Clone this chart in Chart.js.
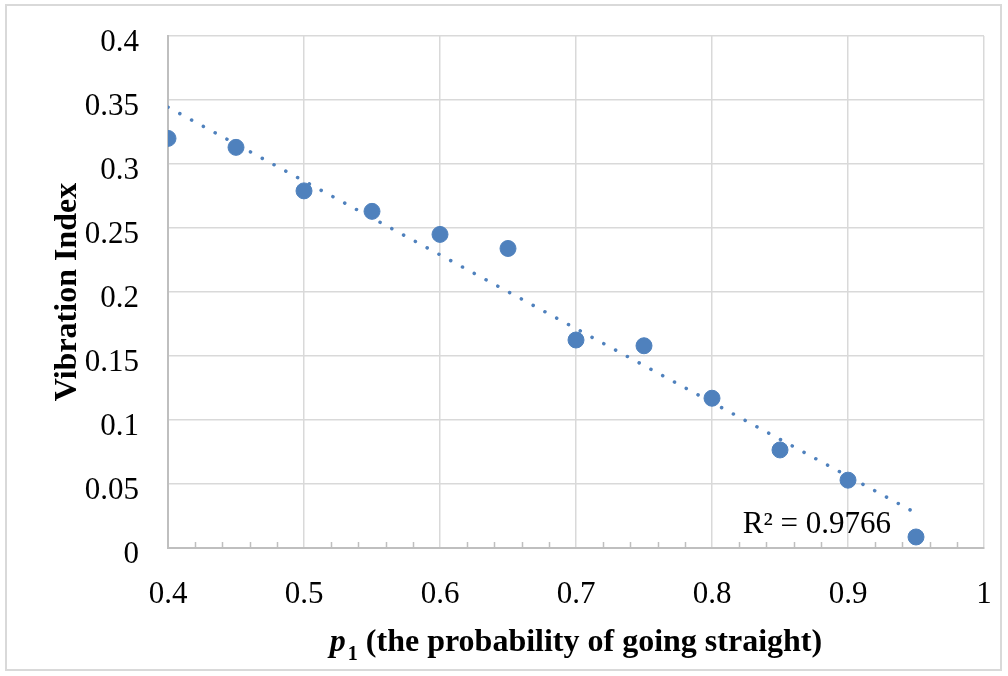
<!DOCTYPE html>
<html>
<head>
<meta charset="utf-8">
<script src="https://cdn.jsdelivr.net/npm/chart.js@4.4.1/dist/chart.umd.min.js"></script>
<style>
  html, body { margin: 0; padding: 0; background: #fff; }
  #wrap { width: 1008px; height: 676px; position: relative; }
</style>
</head>
<body>
<div id="wrap"><canvas id="vib"></canvas></div>
<script>
// p1 values and vibration index
const pValues = [0.4, 0.45, 0.5, 0.55, 0.6, 0.65, 0.7, 0.75, 0.8, 0.85, 0.9, 0.95];
const vibIndex = [0.320, 0.313, 0.279, 0.263, 0.245, 0.234, 0.1625, 0.158, 0.117, 0.0766, 0.053, 0.0086];
const rSquaredText = 'R² = 0.9766';

const serif = "'Liberation Serif', 'Times New Roman', serif";
const blue = '#4f81bd';

// least squares fit, same as the excel trendline
const n = pValues.length;
const mx = pValues.reduce((a, b) => a + b, 0) / n;
const my = vibIndex.reduce((a, b) => a + b, 0) / n;
let sxy = 0, sxx = 0;
pValues.forEach((x, i) => { sxy += (x - mx) * (vibIndex[i] - my); sxx += (x - mx) * (x - mx); });
const slope = sxy / sxx;
const icpt = my - slope * mx;
const trendX = [pValues[0], pValues[n - 1]];

// excel style numbers: 0.4, 0.35, 1, 0
const fmt = v => String(parseFloat(v.toFixed(2)));

// fixed plot box, no extra label padding
const noPad = s => { s.paddingTop = 0; s.paddingBottom = 0; s.paddingLeft = 0; s.paddingRight = 0; };

const extras = {
  id: 'extras',
  afterDraw(chart) {
    const c = chart.ctx;
    const xs = chart.scales.x;
    const a = chart.chartArea;
    c.save();
    // outer frame
    c.strokeStyle = '#d9d9d9';
    c.lineWidth = 2;
    c.strokeRect(6, 5, 995, 665);
    // minor ticks on x axis
    c.strokeStyle = '#bfbfbf';
    c.lineWidth = 1.5;
    for (let i = 20; i < 50; i++) {
      if (i % 5 === 0) continue;
      const px = Math.round(xs.getPixelForValue(i * 0.02)) + 0.5;
      c.beginPath();
      c.moveTo(px, a.bottom);
      c.lineTo(px, a.bottom - 6);
      c.stroke();
    }
    // R squared label
    c.fillStyle = '#000';
    c.font = '31px ' + serif;
    c.textAlign = 'right';
    c.textBaseline = 'alphabetic';
    c.fillText(rSquaredText, xs.getPixelForValue(0.95) - 25, a.bottom - 15);
    // y title
    c.save();
    c.translate(68, (a.top + a.bottom) / 2);
    c.rotate(-Math.PI / 2);
    c.textAlign = 'center';
    c.textBaseline = 'middle';
    c.font = 'bold 32px ' + serif;
    c.fillText('Vibration Index', 0, 0);
    c.restore();
    // x title: italic p, subscript 1, then the rest
    const parts = [
      { t: 'p', f: 'italic bold 32px ' + serif, dy: 0, gap: 2 },
      { t: '1', f: 'bold 20px ' + serif, dy: 9, gap: 0 },
      { t: ' (the probability of going straight)', f: 'bold 32px ' + serif, dy: 0, gap: 0 }
    ];
    let total = 0;
    parts.forEach(p => { c.font = p.f; p.w = c.measureText(p.t).width + p.gap; total += p.w; });
    let x = (a.left + a.right) / 2 - total / 2;
    c.textAlign = 'left';
    c.textBaseline = 'alphabetic';
    parts.forEach(p => { c.font = p.f; c.fillText(p.t, x, 651 + p.dy); x += p.w; });
    c.restore();
  }
};

new Chart(document.getElementById('vib'), {
  type: 'scatter',
  data: {
    datasets: [
      {
        label: 'Vibration Index',
        data: pValues.map((x, i) => ({ x: x, y: vibIndex[i] })),
        backgroundColor: blue,
        borderColor: blue,
        pointRadius: 8,
        pointHoverRadius: 8
      },
      {
        type: 'line',
        label: 'Linear trend',
        data: trendX.map(x => ({ x: x, y: icpt + slope * x })),
        borderColor: blue,
        borderWidth: 3.5,
        borderDash: [0.1, 13.3],
        borderCapStyle: 'round',
        pointRadius: 0,
        fill: false
      }
    ]
  },
  options: {
    responsive: true,
    maintainAspectRatio: false,
    animation: false,
    layout: { padding: { left: 0, top: 36, right: 24, bottom: 0 } },
    plugins: { legend: { display: false }, tooltip: { enabled: false } },
    scales: {
      x: {
        type: 'linear',
        min: 0.4, max: 1,
        afterFit(s) { s.height = 128; noPad(s); },
        ticks: { stepSize: 0.1, color: '#000', padding: 28, font: { family: serif, size: 31 }, callback: fmt },
        grid: { color: '#d9d9d9', lineWidth: 1.5, drawTicks: false },
        border: { color: '#bfbfbf', width: 2 }
      },
      y: {
        min: 0, max: 0.4,
        afterFit(s) { s.width = 168; noPad(s); },
        ticks: { stepSize: 0.05, color: '#000', padding: 29, labelOffset: 7, font: { family: serif, size: 31 }, callback: fmt },
        grid: { color: '#d9d9d9', lineWidth: 1.5, drawTicks: false },
        border: { color: '#bfbfbf', width: 2 }
      }
    }
  },
  plugins: [extras]
});
</script>
</body>
</html>
